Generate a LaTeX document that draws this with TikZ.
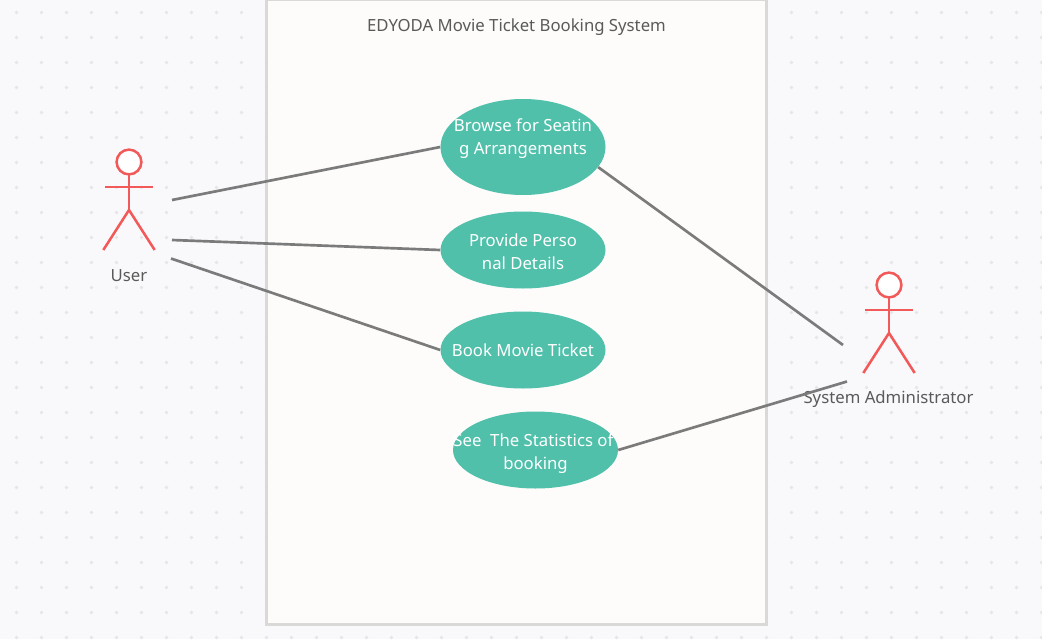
\documentclass[tikz,border=0pt]{standalone}
\usepackage{fontspec}
\setmainfont{Noto Sans}
\usepackage{xcolor}
\usetikzlibrary{shapes.geometric}
\definecolor{pagebg}{HTML}{F9F9FC}
\definecolor{griddot}{HTML}{E6E6E9}
\definecolor{boxfill}{HTML}{FDFCFB}
\definecolor{boxline}{HTML}{D9D9D7}
\definecolor{casefill}{HTML}{50C0AA}
\definecolor{linkgray}{HTML}{7B7B7B}
\definecolor{actorred}{HTML}{F25A5A}
\definecolor{labelgray}{HTML}{5A5A5A}
\newcommand{\caseline}{\rule{0pt}{16.6pt}}
\tikzset{
  usecase/.style={ellipse,fill=casefill,text=white,align=center,inner xsep=-40pt,inner ysep=-15pt,minimum width=123.75pt,font=\fontsize{12.55}{17.25}\selectfont},
  actorlabel/.style={text=labelgray,inner sep=0pt,font=\fontsize{12.55}{17.25}\selectfont},
  link/.style={linkgray,line width=2pt},
  actorline/.style={actorred,line width=1.9pt}
}

\begin{document}
\begin{tikzpicture}[x=0.75pt,y=-0.75pt]
  \useasboundingbox (0,0) rectangle (1042,639);
  \fill[pagebg] (0,0) rectangle (1042,639);
  \foreach \i in {0,...,41} {
    \foreach \j in {0,...,25} {
      \fill[griddot] (16.5+25*\i,12.5+25*\j) circle (1.8);
    }
  }
  \draw[fill=boxfill,draw=boxline,line width=2.2pt] (266.7,0) rectangle (766.7,624.7);
  \node[actorlabel] (title) at (516.5,27) {EDYODA Movie Ticket Booking System};

  \node[usecase,minimum height=72pt] (browse) at (523,147) {\caseline Browse for Seatin\\g Arrangements\\\strut};
  \node[usecase,minimum height=57.75pt] (personal) at (523,250) {\caseline Provide Perso\\nal Details\strut};
  \node[usecase,minimum height=57.75pt] (book) at (523,350) {Book Movie Ticket};
  \node[usecase,minimum height=57.75pt] (stats) at (535.5,450) {\caseline See\ \ The Statistics of\kern3.2pt\\booking\strut};

  % actors
  \foreach \ax/\ay in {129/162,889/285} {
    \draw[actorline,fill=white] (\ax,\ay) circle (12.4);
    \draw[actorline] (\ax,\ay+12.4) -- (\ax,\ay+48);
    \draw[actorline] (\ax-23.7,\ay+25) -- (\ax+23.7,\ay+25);
    \draw[actorline,line join=round] (\ax-25.7,\ay+88) -- (\ax,\ay+48) -- (\ax+25.7,\ay+88);
  }
  \node[actorlabel] (user) at (129,275.5) {User};
  \node[actorlabel] (admin) at (888.5,399) {System Administrator};

  \coordinate (userA) at (172,200);
  \coordinate (userB) at (172,240);
  \coordinate (userC) at (171,258.5);
  \coordinate (adminA) at (843,345);
  \coordinate (adminB) at (847,381.5);
  \draw[link] (userA) -- (browse.west);
  \draw[link] (userB) -- (personal.west);
  \draw[link] (userC) -- (book.west);
  \draw[link] (browse.-15) -- (adminA);
  \draw[link] (stats.east) -- (adminB);
\end{tikzpicture}
\end{document}
